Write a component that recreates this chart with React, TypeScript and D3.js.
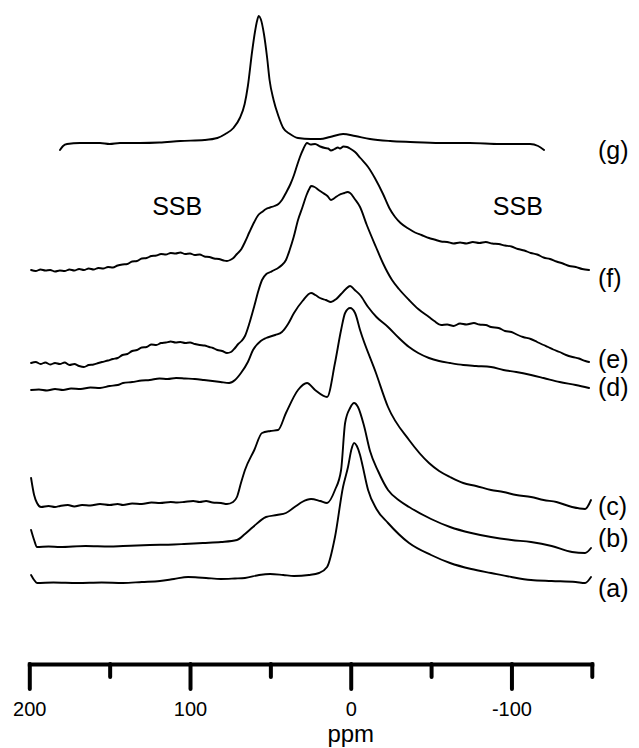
import React, { useRef, useEffect } from 'react'
import * as d3 from 'd3'

// chemical shift (ppm) vs. height above each trace baseline
const traceA: [number, number][] = [
  [198.9, 8], [197, 3], [195.2, 0], [185, 0.5], [170, 0], [155, 0.5], [141.7, 0], [130, 1], [118.7, 2],
  [110, 4], [101.2, 6], [95, 5.5], [90, 5], [80.7, 4], [72, 4.5], [65.8, 5], [57, 8], [50.2, 9], [42, 8],
  [35.3, 7], [26, 8], [19.7, 10], [14.7, 16], [9.8, 46], [4.8, 96], [1.7, 116], [-0.5, 134], [-2.1, 140],
  [-3.8, 137], [-5.8, 128], [-7, 120], [-10.8, 93], [-16, 74], [-23.2, 60], [-36.3, 40], [-50, 28],
  [-61.8, 20], [-75, 14], [-87.3, 10], [-100, 6], [-112.2, 3], [-125, 2], [-140, 1], [-145.8, 0], [-149.5, 6],
]
const traceB: [number, number][] = [
  [198.9, 16], [197, 6], [195.2, -1], [188, -0.5], [180.9, -1], [165, 0], [150, -0.5], [141.7, 0],
  [125, 1], [110, 1.5], [103.7, 2], [92, 3], [80.7, 4], [70.8, 6], [65.8, 12], [60.8, 19], [52.7, 29],
  [46, 31], [40.3, 33], [34, 40], [30.3, 44], [24.7, 47], [19, 45], [14.7, 43], [9.8, 56], [6, 76],
  [3.5, 123], [0.4, 138], [-2.1, 143], [-4.5, 139], [-8.3, 120], [-12, 95], [-17, 75], [-23.2, 56],
  [-30.6, 45], [-36.3, 39], [-50, 27], [-61.8, 19], [-75, 13], [-87.3, 9], [-100, 6], [-112.2, 4],
  [-125, 0], [-137.7, -6], [-145.8, -7], [-149.5, -2],
]
const traceC: [number, number][] = [
  [198.9, 27], [197, 10], [195.2, 2], [192.7, -2], [188, -1], [184, -2], [180.9, -1], [176, 0],
  [172, -1.5], [167.2, 0], [162, -0.5], [156, 1], [150, 0], [145, 1], [141.7, 0], [136, 1.5], [130, 1],
  [124, 2.5], [118.7, 2], [112, 3], [108, 2.5], [103.7, 3], [98, 4], [94, 3], [90, 4], [86, 2.5],
  [80.7, 2], [77, 1], [73.2, 3], [70.8, 8], [68.3, 22], [65.8, 35], [60, 55], [55.2, 72], [50, 74],
  [45.2, 75], [40.3, 92], [32.8, 115], [27.2, 122], [22.2, 115], [14.7, 108], [9.8, 142], [6, 175],
  [3.5, 192], [0.4, 197], [-2.7, 192], [-5.8, 175], [-15.7, 132], [-23.2, 98], [-36.3, 65], [-48.7, 42],
  [-55, 34], [-61.8, 28], [-70, 22], [-78, 19], [-87.3, 15], [-95, 13], [-103, 10], [-112.2, 8],
  [-120, 5], [-128, 3], [-137.7, -2], [-145.8, -4], [-149.5, 5],
]
const traceD: [number, number][] = [
  [198.9, 0], [194, 0.5], [189, -0.5], [184, 1], [179, 0], [174, 1.5], [168, 1], [162, 2.5], [156, 2],
  [150, 4], [145, 5], [141.7, 7], [136, 8], [130, 9.5], [125, 10], [119, 11.5], [114, 11], [108.7, 12],
  [103, 11.5], [97, 11], [91.3, 10], [86, 9], [81, 8], [75.7, 7], [72, 10], [68.3, 17], [64, 28],
  [60.8, 40], [56, 49], [52.7, 52], [47, 55], [42.8, 58], [39, 66], [35.3, 77], [30, 89], [24.7, 97],
  [22, 95], [19.1, 92], [15.5, 90], [12.3, 88], [9, 91], [6, 96], [3, 101], [0.4, 104], [-2.5, 100],
  [-5.8, 95], [-10.8, 83], [-16, 73], [-23.2, 63], [-30, 52], [-36.3, 43], [-42, 37], [-48.7, 32],
  [-55, 29], [-61.8, 27], [-70, 25], [-78, 24], [-87.3, 23], [-95, 20], [-103, 18], [-112.2, 15],
  [-120, 12], [-130, 8], [-140, 5], [-148.3, 2],
]
const traceE: [number, number][] = [
  [198.9, 0], [196, 1], [193, -1], [190, 0.5], [187, -1.5], [184, 0], [181, -1], [178, 0.5], [175, -2],
  [172, -1], [169, -3], [166, -4], [163, -2], [160, -1.5], [157, 0], [154.8, 1], [151, 2.5], [148, 4],
  [145, 5], [142, 8], [139, 9], [136, 12], [133, 13], [130, 15.5], [127, 16], [124, 18.5], [121, 18],
  [118, 20], [115, 20.5], [112, 21.5], [109, 20.5], [106, 21], [103, 20], [100, 20.5], [97, 19],
  [94, 18], [91, 17.5], [88, 16], [85.7, 15], [83, 13], [80, 12], [77, 10], [74.5, 11], [72, 15],
  [70, 19], [68, 22], [65.8, 27], [63, 40], [60, 57], [57.5, 72], [55.2, 83], [52.5, 89], [50, 91],
  [47.5, 93], [45.2, 95], [42.8, 98], [40.3, 103], [38, 113], [35.5, 126], [32.8, 143], [30, 156],
  [27.5, 168], [25.5, 175], [24.7, 177], [22.5, 176], [20, 173], [17.2, 170], [14.5, 167], [12.3, 163],
  [10, 165], [7.3, 168], [4, 170], [2, 171], [0.4, 170], [-2.5, 164], [-5.8, 156], [-10, 138],
  [-15.7, 116], [-20, 100], [-25.7, 83], [-30, 74], [-36.3, 63], [-42, 54], [-48.7, 46], [-52, 42],
  [-56.2, 38], [-60, 38.5], [-64, 37], [-68, 39.5], [-72, 38.5], [-76.7, 40], [-80, 38.5], [-84, 38],
  [-87.3, 36], [-92, 35], [-96, 32], [-100, 31], [-104, 28], [-107.2, 26], [-112, 24], [-116, 21],
  [-120, 18], [-122.8, 16], [-126, 13.5], [-130, 11], [-134, 8], [-138, 6], [-142, 4.5], [-146, 2],
  [-148.3, 1],
]
const traceF: [number, number][] = [
  [198.9, 0], [196, -1], [193, 0.5], [190, -0.5], [187, 0], [184, -1.5], [181, -0.5], [178, -1],
  [175, 0.5], [172, -0.5], [169, 1], [166, 0], [163, 1.5], [160, 0.5], [157, 2], [154, 1.5], [151, 3],
  [148, 2.5], [145, 4.5], [142, 5.5], [139, 6], [136, 8.5], [133, 9], [130, 11.5], [127, 12], [124, 14],
  [121, 14.5], [118, 16], [115, 15.5], [112, 17], [109, 16.5], [106, 17.5], [103, 16], [100, 16.5],
  [97, 15], [94, 15.5], [91, 13.5], [88, 13], [85, 11.5], [82, 11], [79, 9.5], [77, 9], [75, 10],
  [73, 12], [70.8, 16], [68, 21], [65.8, 28], [63, 38], [60, 48], [57.5, 55], [55.2, 58], [52.7, 61],
  [50.2, 62.5], [47.5, 64], [45, 66], [42.8, 70], [40, 78], [37.5, 86], [35.3, 95], [33.5, 104],
  [31.6, 113], [29.5, 121], [27.2, 127], [25, 125.5], [22.2, 126], [19, 123.5], [16, 122], [14, 121.5],
  [12.3, 119.5], [10, 121], [8, 122.5], [6.7, 121.5], [4.5, 123.5], [2.3, 123], [0, 121], [-2.7, 118],
  [-6, 112], [-10.8, 103], [-15, 92], [-20.1, 76], [-24, 62], [-27.6, 53], [-31, 47], [-36.3, 41],
  [-40, 37.5], [-44, 35], [-48.7, 32], [-52, 30.5], [-56.2, 28.5], [-60, 28], [-64, 26.5], [-68, 27.5],
  [-72, 26.5], [-76, 28], [-80, 27], [-84, 28], [-88, 26.5], [-92, 26], [-96, 24.5], [-100, 23.5],
  [-104, 21], [-108, 19.5], [-112, 17], [-116, 15.5], [-120, 12.5], [-124, 11], [-128, 8.5],
  [-132, 6.5], [-136, 4], [-140, 3], [-144, 1], [-148.3, 0],
]
const traceG: [number, number][] = [
  [180.9, -6], [179, -2], [176.5, 0], [168.5, 1], [156, 1], [150, 0], [143.6, 1], [131, 1], [119, 1.5],
  [106, 3], [91, 4], [83, 6], [78, 10], [73, 16], [69, 26], [66, 40], [64, 58], [61.4, 92], [59.6, 112],
  [58.3, 123], [57.2, 128], [56, 125], [54, 110], [52, 86], [50.5, 64], [48, 44], [45, 28], [42, 16],
  [37.8, 10], [32.8, 6], [25, 5], [19, 5], [12.9, 7], [4.8, 10], [-2.7, 8], [-12, 5], [-24.5, 3],
  [-37, 2], [-55.6, 1], [-74, 1], [-93, 0], [-111.6, 0], [-116.6, -2], [-120.3, -6],
]

const traces = [traceA, traceB, traceC, traceD, traceE, traceF, traceG]
const baselines = [81, 118, 159, 274, 301, 394, 520]
const traceLabels = ['(a)', '(b)', '(c)', '(d)', '(e)', '(f)', '(g)']
const labelLevels = [67, 117, 149, 268, 296, 377, 505]

const majorTicks = [200, 100, 0, -100]
const minorTicks = [150, 50, -50, -150]
const ssbNotes: [number, string][] = [[108, 'SSB'], [-104, 'SSB']]
const ssbLevel = 449

const W = 639
const H = 748
const FONT = '"Liberation Sans", Arial, Helvetica, sans-serif'

export default function App() {
  const svgRef = useRef<SVGSVGElement | null>(null)

  useEffect(() => {
    if (!svgRef.current) return
    const svg = d3.select(svgRef.current)
    svg.selectAll('*').remove()

    const axisY = 664
    const x = d3.scaleLinear().domain([200, -150]).range([29.3, 591.8])
    const y = d3.scaleLinear().domain([0, 650]).range([axisY, 14])

    const g = svg.append('g')

    traces.forEach((tr, i) => {
      const line = d3
        .line<[number, number]>()
        .x((d) => x(d[0]))
        .y((d) => y(baselines[i] + d[1]))
        .curve(d3.curveMonotoneX)

      g.append('path')
        .datum([...tr].reverse())
        .attr('d', line)
        .attr('fill', 'none')
        .attr('stroke', '#000')
        .attr('stroke-width', 1.9)
        .attr('stroke-linejoin', 'round')
        .attr('stroke-linecap', 'round')

      g.append('text')
        .attr('x', 598)
        .attr('y', y(labelLevels[i]))
        .attr('font-family', FONT)
        .attr('font-size', 25)
        .attr('fill', '#000')
        .text(traceLabels[i])
    })

    ssbNotes.forEach(([ppm, txt]) => {
      g.append('text')
        .attr('x', x(ppm))
        .attr('y', y(ssbLevel))
        .attr('text-anchor', 'middle')
        .attr('font-family', FONT)
        .attr('font-size', 25)
        .text(txt)
    })

    // axis: major ticks with labels, minor ticks without
    const major = svg
      .append('g')
      .attr('transform', `translate(0,${axisY})`)
      .call(
        d3.axisBottom(x).tickValues(majorTicks).tickSize(25).tickSizeOuter(0).tickPadding(13)
          .tickFormat((d) => String(d))
      )
    major.select('.domain').attr('stroke-width', 4).attr('stroke-linecap', 'square')
    major.selectAll('.tick line').attr('stroke-width', 4).attr('stroke-linecap', 'round')
    major.selectAll('.tick text').attr('font-family', FONT).attr('font-size', 20).attr('fill', '#000')

    const minor = svg
      .append('g')
      .attr('transform', `translate(0,${axisY})`)
      .call(d3.axisBottom(x).tickValues(minorTicks).tickSize(13).tickSizeOuter(0).tickFormat(() => ''))
    minor.select('.domain').remove()
    minor.selectAll('.tick line').attr('stroke-width', 4).attr('stroke-linecap', 'round')

    svg
      .append('text')
      .attr('x', x(0))
      .attr('y', 742)
      .attr('text-anchor', 'middle')
      .attr('font-family', FONT)
      .attr('font-size', 24)
      .text('ppm')
  }, [])

  return (
    <svg
      ref={svgRef}
      width={W}
      height={H}
      style={{ position: 'absolute', left: 0, top: 0, background: '#fff' }}
    />
  )
}
